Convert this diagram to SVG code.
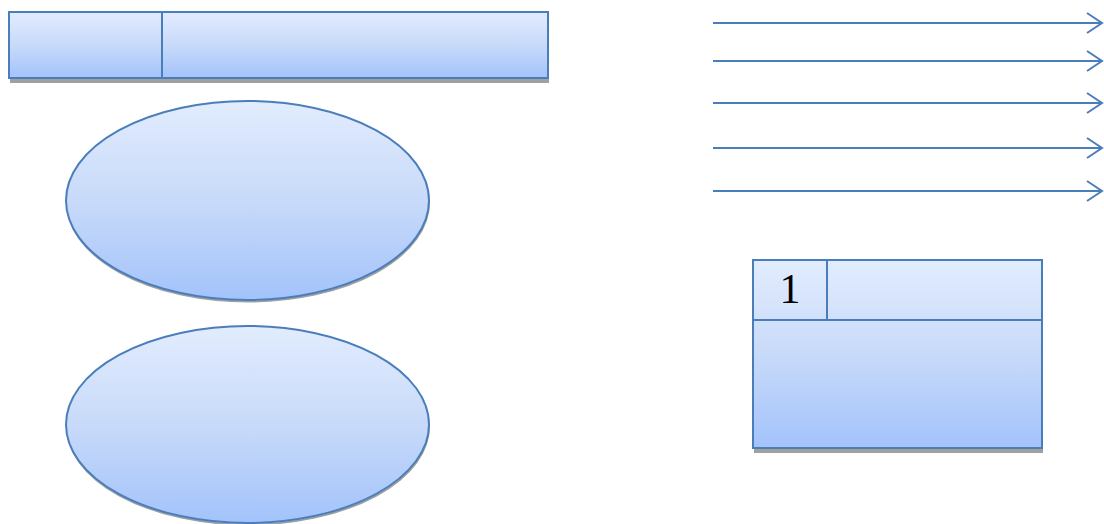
<svg xmlns="http://www.w3.org/2000/svg" width="1104" height="524" viewBox="0 0 1104 524">
<defs>
<linearGradient id="g" x1="0" y1="0" x2="0" y2="1">
<stop offset="0" stop-color="#e2ecfe"/>
<stop offset="0.5" stop-color="#c8daf9"/>
<stop offset="1" stop-color="#a3c3fb"/>
</linearGradient>
<marker id="ah" markerWidth="20" markerHeight="24" refX="16" refY="11" orient="auto" markerUnits="userSpaceOnUse">
<path d="M1,1 L16,11 L1,21" fill="none" stroke="#4a7ebb" stroke-width="2"/>
</marker>
<style>
.sh{fill:#a0a0a0;stroke:none}
.sh2{fill:none;stroke:#a0a0a0;stroke-width:2}
.box{fill:url(#g);stroke:#4a7ebb;stroke-width:2}
.ln{stroke:#4a7ebb;stroke-width:2;fill:none}
.txt{font-family:"Liberation Serif",serif;font-size:42px;fill:#000}
</style>
</defs>
<g id="topbar">
<rect class="sh" x="10" y="78" width="539" height="5"/>
<rect class="box" x="9" y="12" width="539" height="66"/>
<line class="ln" x1="162" y1="12" x2="162" y2="78"/>
</g>
<g id="ellipse1">
<ellipse class="sh2" cx="248" cy="202.5" rx="181" ry="99"/>
<ellipse class="box" cx="247.5" cy="200.5" rx="181.5" ry="99.5"/>
</g>
<g id="ellipse2">
<ellipse class="sh2" cx="248" cy="426.5" rx="181" ry="98"/>
<ellipse class="box" cx="247.5" cy="424.5" rx="181.5" ry="98.5"/>
</g>
<g id="connectors">
<line class="ln" x1="713" y1="23" x2="1102" y2="23" marker-end="url(#ah)"/>
<line class="ln" x1="713" y1="61" x2="1102" y2="61" marker-end="url(#ah)"/>
<line class="ln" x1="713" y1="103" x2="1102" y2="103" marker-end="url(#ah)"/>
<line class="ln" x1="713" y1="148" x2="1102" y2="148" marker-end="url(#ah)"/>
<line class="ln" x1="713" y1="191" x2="1102" y2="191" marker-end="url(#ah)"/>
</g>
<g id="classbox">
<rect class="sh" x="754" y="448" width="289" height="5"/>
<rect class="box" x="753" y="260" width="289" height="188"/>
<line class="ln" x1="753" y1="320" x2="1042" y2="320"/>
<line class="ln" x1="827" y1="260" x2="827" y2="320"/>
<text class="txt" x="790" y="303" text-anchor="middle">1</text>
</g>
</svg>
